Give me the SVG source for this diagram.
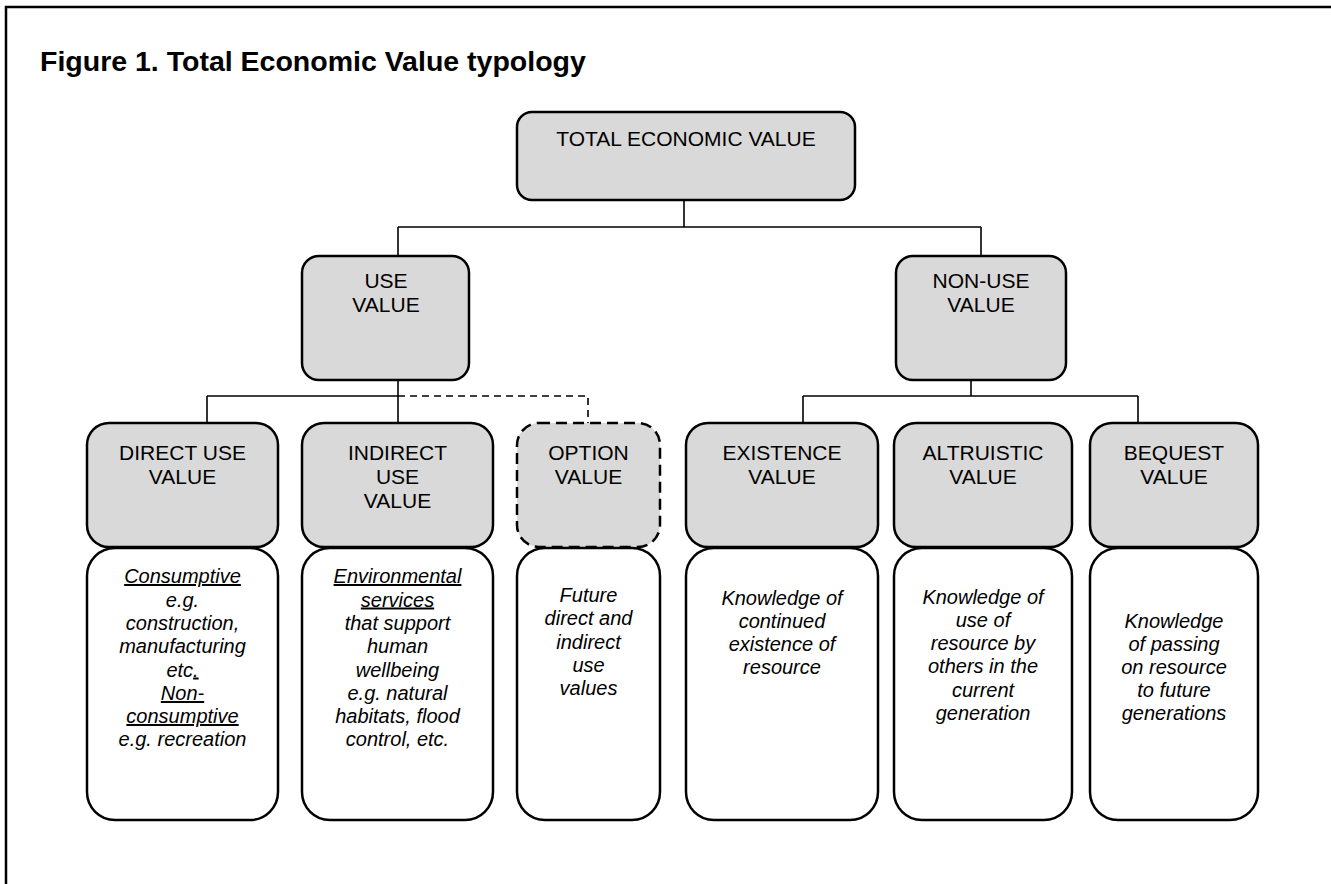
<svg xmlns="http://www.w3.org/2000/svg" width="1331" height="884" viewBox="0 0 1331 884">
<style>
.frame{fill:none;stroke:#000;stroke-width:2.5}
.g{fill:#d9d9d9;stroke:#000;stroke-width:2.5}
.w{fill:#fff;stroke:#000;stroke-width:2.5}
.dash{stroke-dasharray:7 5}
.bdash{stroke-dasharray:11 6}
.c{fill:none;stroke:#000;stroke-width:1.6}
.lbl{font-family:"Liberation Sans",Arial,sans-serif;font-size:21px;fill:#000;text-anchor:middle}
.it{font-family:"Liberation Sans",Arial,sans-serif;font-size:20px;font-style:italic;fill:#000;text-anchor:middle}
.title{font-family:"Liberation Sans",Arial,sans-serif;font-size:28.5px;font-weight:bold;fill:#000}
</style>
<rect width="1331" height="884" fill="#fff"/>
<path class="frame" d="M6,884 V7 H1331"/>
<text class="title" x="40" y="71">Figure 1. Total Economic Value typology</text>

<g id="connectors">
<path class="c" d="M684,200 V227 M398,227 H981 M398,227 V256 M981,227 V256"/>
<path class="c" d="M398,380 V423 M207,396 H398 M207,396 V423"/>
<path class="c dash" d="M398,396 H588 V423"/>
<path class="c" d="M971,380 V396 M803,396 H1138 M803,396 V423 M1138,396 V423"/>
</g>

<g id="total"><rect class="g" x="517" y="112" width="338" height="88" rx="15"/><text class="lbl" x="686" y="146">TOTAL ECONOMIC VALUE</text></g>
<g id="use"><rect class="g" x="302" y="256" width="167" height="124" rx="17"/><text class="lbl" x="386" y="288">USE</text><text class="lbl" x="386" y="312">VALUE</text></g>
<g id="nonuse"><rect class="g" x="896" y="256" width="170" height="124" rx="17"/><text class="lbl" x="981" y="288">NON-USE</text><text class="lbl" x="981" y="312">VALUE</text></g>

<g id="direct"><rect class="g" x="87" y="423" width="191" height="124" rx="22"/><text class="lbl" x="182.5" y="460">DIRECT USE</text><text class="lbl" x="182.5" y="484">VALUE</text></g>
<g id="indirect"><rect class="g" x="302" y="423" width="191" height="124" rx="22"/><text class="lbl" x="397.5" y="460">INDIRECT</text><text class="lbl" x="397.5" y="484">USE</text><text class="lbl" x="397.5" y="508">VALUE</text></g>
<g id="option"><rect class="g bdash" x="517" y="423" width="143" height="124" rx="22"/><text class="lbl" x="588.5" y="460">OPTION</text><text class="lbl" x="588.5" y="484">VALUE</text></g>
<g id="existence"><rect class="g" x="686" y="423" width="192" height="124" rx="22"/><text class="lbl" x="782" y="460">EXISTENCE</text><text class="lbl" x="782" y="484">VALUE</text></g>
<g id="altruistic"><rect class="g" x="894" y="423" width="178" height="124" rx="22"/><text class="lbl" x="983" y="460">ALTRUISTIC</text><text class="lbl" x="983" y="484">VALUE</text></g>
<g id="bequest"><rect class="g" x="1090" y="423" width="168" height="124" rx="22"/><text class="lbl" x="1174" y="460">BEQUEST</text><text class="lbl" x="1174" y="484">VALUE</text></g>

<g id="direct-desc"><rect class="w" x="87" y="548" width="191" height="272" rx="28"/>
<text class="it" x="182.5" y="583" text-decoration="underline">Consumptive</text>
<text class="it" x="182.5" y="606.5">e.g.</text>
<text class="it" x="182.5" y="630">construction,</text>
<text class="it" x="182.5" y="653">manufacturing</text>
<text class="it" x="182.5" y="676.5">etc<tspan text-decoration="underline">.</tspan></text>
<text class="it" x="182.5" y="700" text-decoration="underline">Non-</text>
<text class="it" x="182.5" y="723" text-decoration="underline">consumptive</text>
<text class="it" x="182.5" y="746">e.g. recreation</text>
</g>
<g id="indirect-desc"><rect class="w" x="302" y="548" width="191" height="272" rx="28"/>
<text class="it" x="397.5" y="583" text-decoration="underline">Environmental</text>
<text class="it" x="397.5" y="606.5" text-decoration="underline">services</text>
<text class="it" x="397.5" y="630">that support</text>
<text class="it" x="397.5" y="653">human</text>
<text class="it" x="397.5" y="676.5">wellbeing</text>
<text class="it" x="397.5" y="700">e.g. natural</text>
<text class="it" x="397.5" y="723">habitats, flood</text>
<text class="it" x="397.5" y="746">control, etc.</text>
</g>
<g id="option-desc"><rect class="w" x="517" y="548" width="143" height="272" rx="28"/>
<text class="it" x="588.5" y="602">Future</text>
<text class="it" x="588.5" y="625">direct and</text>
<text class="it" x="588.5" y="648.5">indirect</text>
<text class="it" x="588.5" y="672">use</text>
<text class="it" x="588.5" y="695">values</text>
</g>
<g id="existence-desc"><rect class="w" x="686" y="548" width="192" height="272" rx="28"/>
<text class="it" x="782" y="605">Knowledge of</text>
<text class="it" x="782" y="628">continued</text>
<text class="it" x="782" y="651">existence of</text>
<text class="it" x="782" y="674">resource</text>
</g>
<g id="altruistic-desc"><rect class="w" x="894" y="548" width="178" height="272" rx="28"/>
<text class="it" x="983" y="604">Knowledge of</text>
<text class="it" x="983" y="627">use of</text>
<text class="it" x="983" y="650">resource by</text>
<text class="it" x="983" y="673">others in the</text>
<text class="it" x="983" y="697">current</text>
<text class="it" x="983" y="720">generation</text>
</g>
<g id="bequest-desc"><rect class="w" x="1090" y="548" width="168" height="272" rx="28"/>
<text class="it" x="1174" y="628">Knowledge</text>
<text class="it" x="1174" y="651">of passing</text>
<text class="it" x="1174" y="674">on resource</text>
<text class="it" x="1174" y="697">to future</text>
<text class="it" x="1174" y="720">generations</text>
</g>
</svg>
